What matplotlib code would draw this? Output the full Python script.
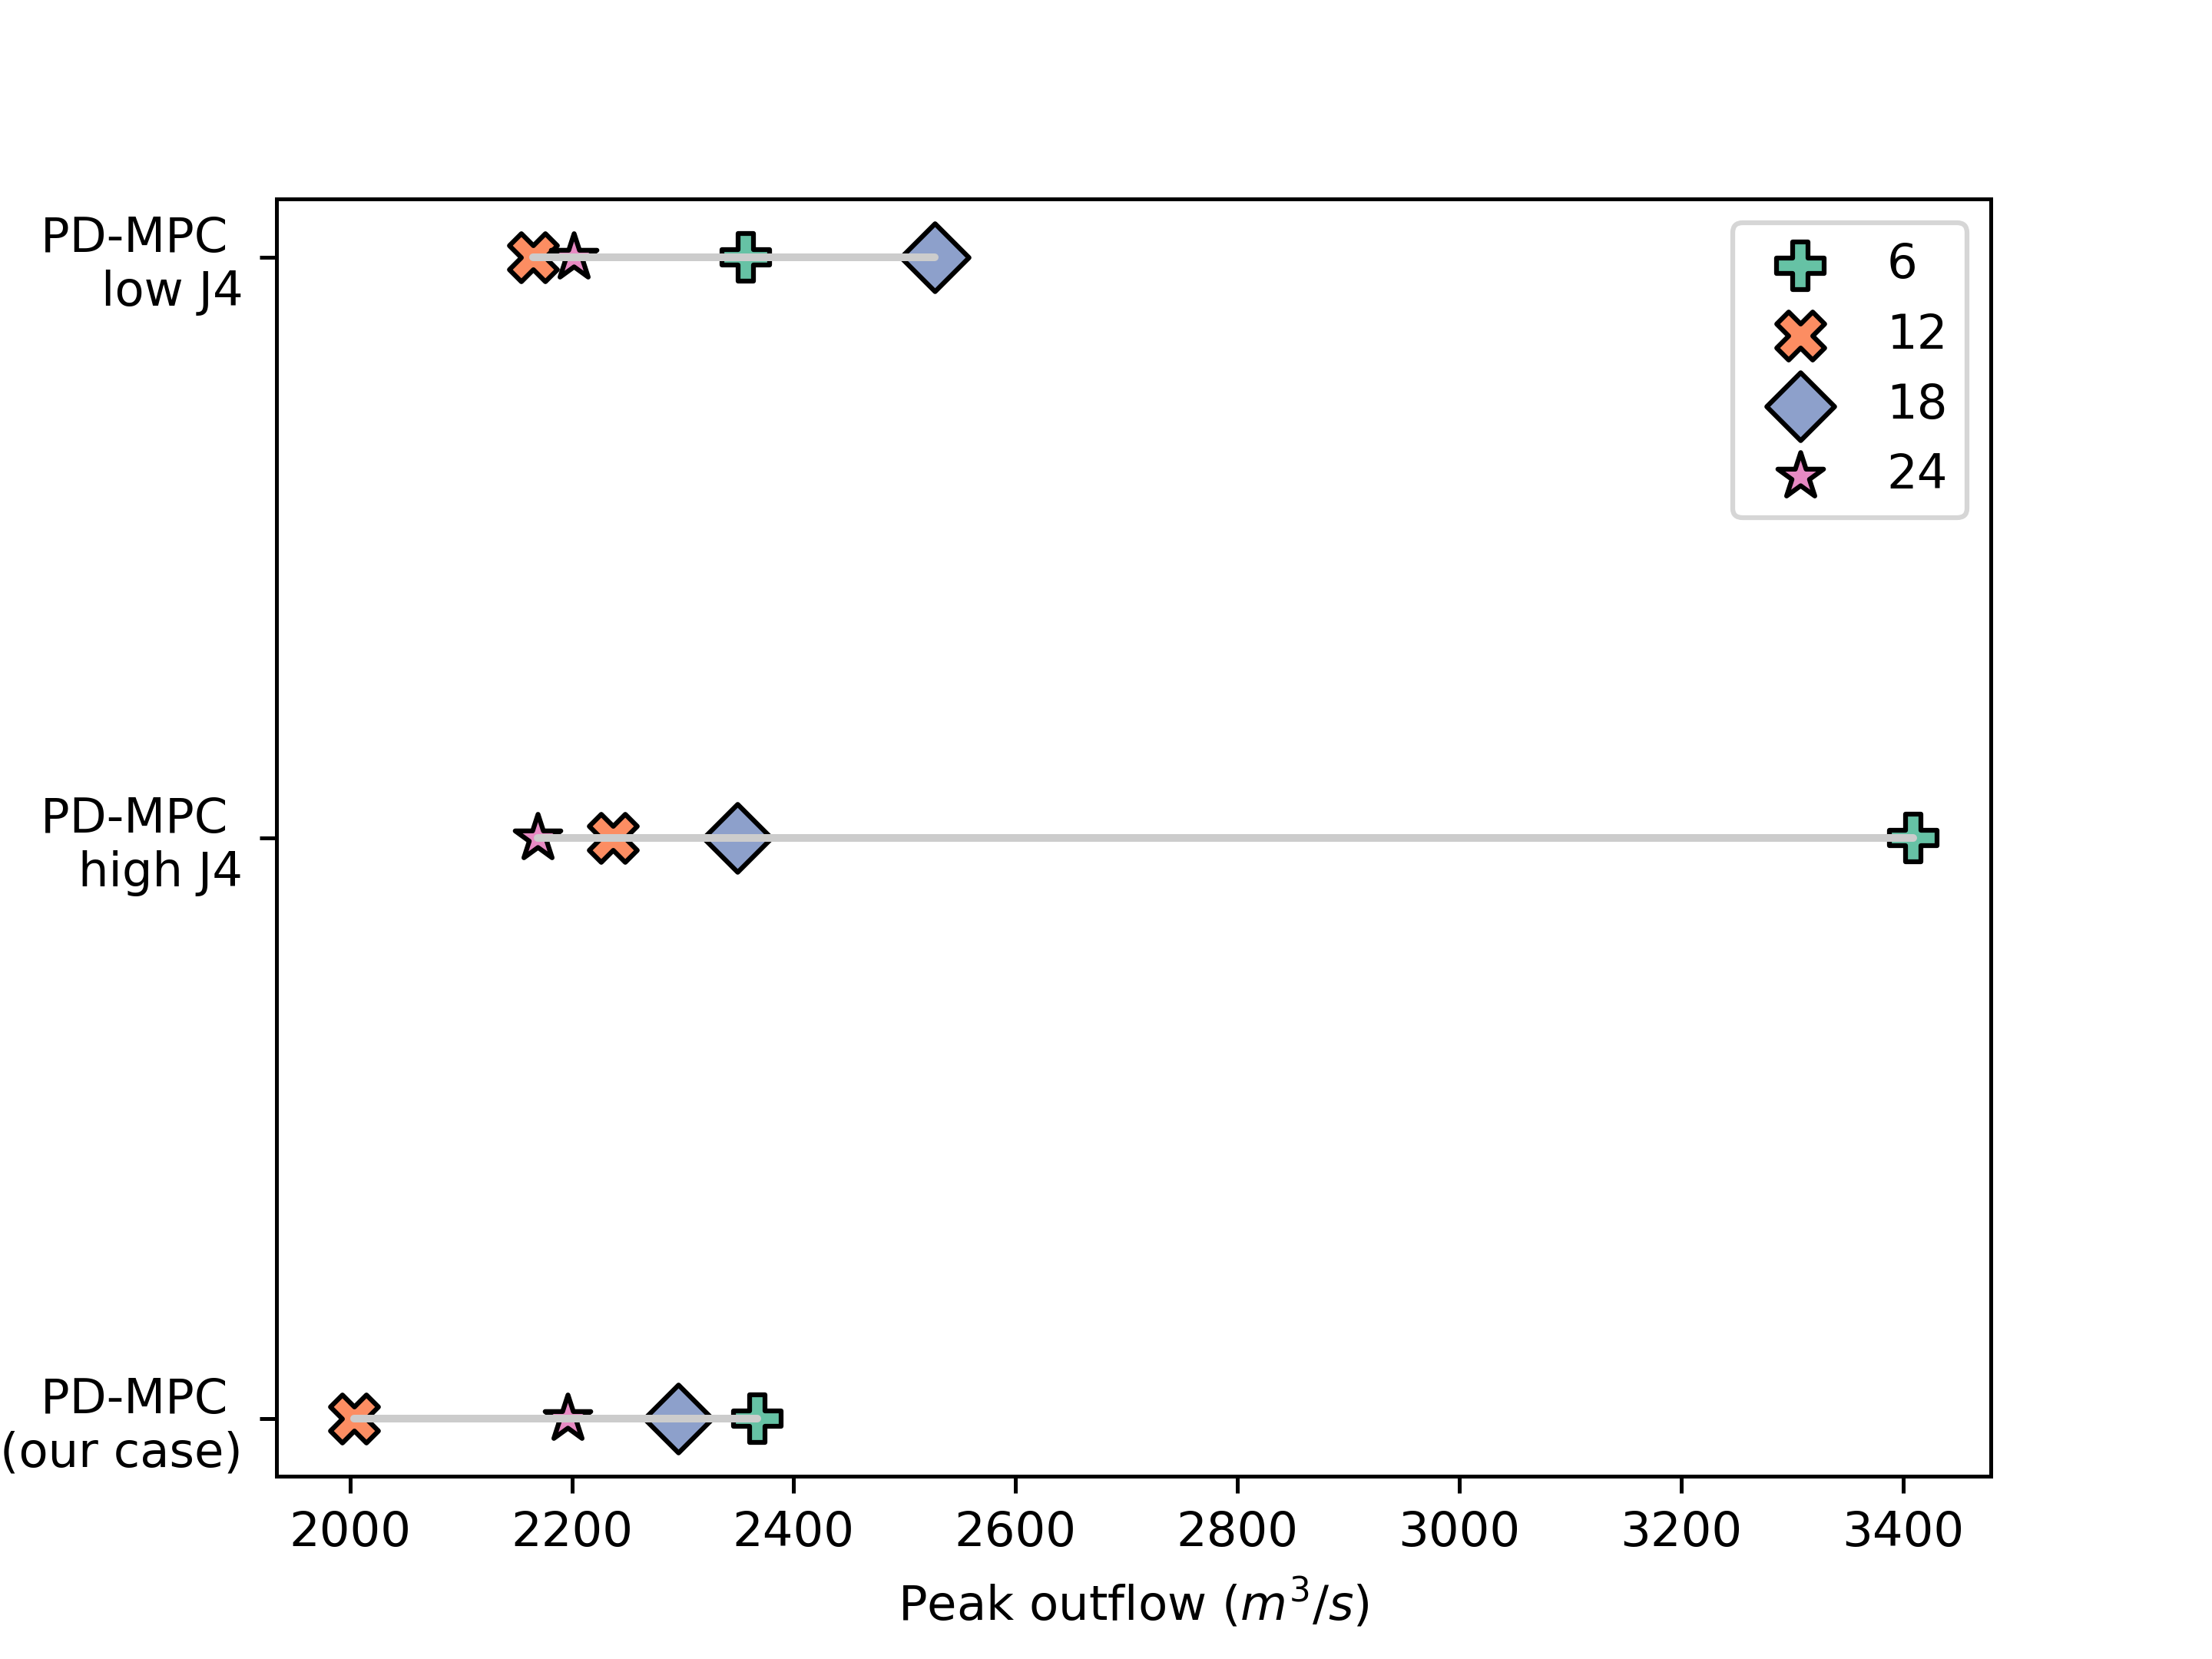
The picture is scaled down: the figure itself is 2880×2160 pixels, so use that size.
import numpy as np
import matplotlib
matplotlib.use("Agg")
import matplotlib.pyplot as plt

cases = ["PD-MPC \n(our case)", "PD-MPC \nhigh J4", "PD-MPC \nlow J4"]
horizons = ["6", "12", "18", "24"]
markers = ["P", "X", "D", "*"]
colors = ["#66c2a5", "#fc8d62", "#8da0cb", "#e78ac3"]

# peak outflow per horizon, order: our case, high J4, low J4
peak_6 = [2367, 3409, 2357]
peak_12 = [2004, 2237, 2165]
peak_18 = [2296, 2349, 2527]
peak_24 = [2196, 2169, 2202]

series = [peak_6, peak_12, peak_18, peak_24]
ypos = np.arange(len(cases))

fig, ax = plt.subplots(figsize=(6.4, 4.8), dpi=450)

for vals, lab, m, c in zip(series, horizons, markers, colors):
    ax.scatter(vals, ypos, marker=m, s=100, color=c, edgecolor="black",
               linewidth=1, label=lab)

allv = np.array(series)
for i in ypos:
    ax.plot([allv[:, i].min(), allv[:, i].max()], [i, i], color="#cccccc",
            linewidth=1.6, solid_capstyle="round")

ax.set_yticks(ypos)
ax.set_yticklabels(cases)
ax.set_xlabel("Peak outflow ($m^3/s$)")
ax.legend(loc="upper right")

fig.savefig("out.png", dpi=450)
